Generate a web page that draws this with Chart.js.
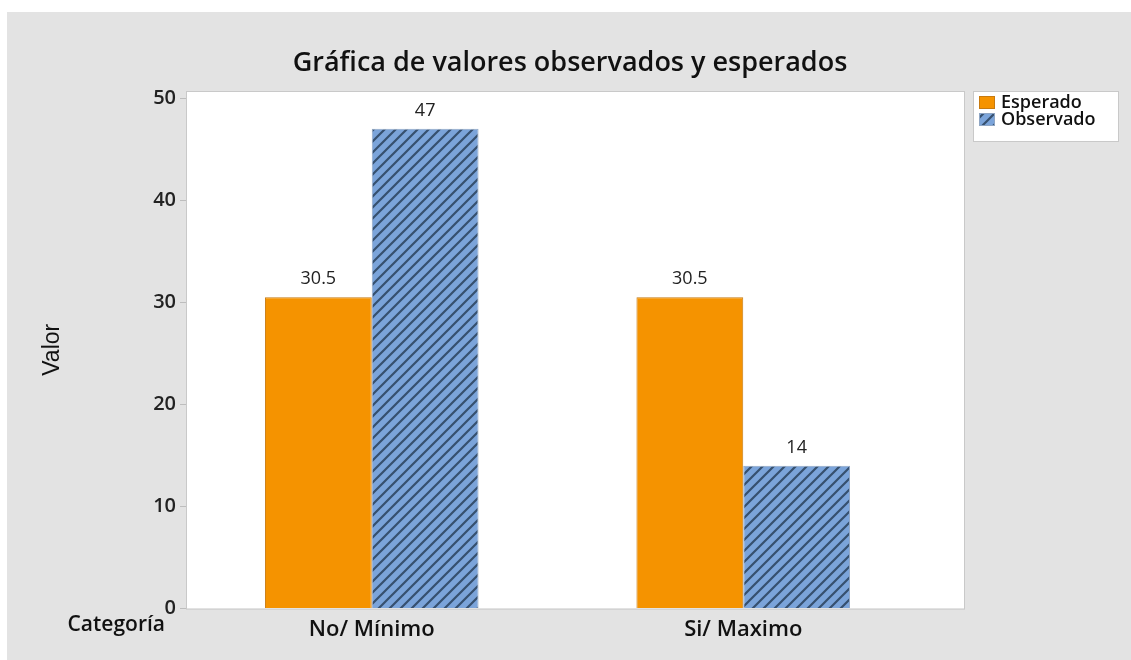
<!DOCTYPE html>
<html>
<head>
<meta charset="utf-8">
<script src="https://cdn.jsdelivr.net/npm/chart.js@4.4.1/dist/chart.umd.min.js"></script>
<style>
  body { margin: 0; background: #fff; }
  #panel { position: absolute; left: 7px; top: 12px; width: 1124px; height: 648px; background: #e3e3e3; }
</style>
</head>
<body>
<div id="panel"><canvas id="myChart"></canvas></div>
<script>
// data
const categories = ['No/ Mínimo', 'Si/ Maximo'];
const esperado = [30.5, 30.5];
const observado = [47, 14];
const yTicks = [0, 10, 20, 30, 40, 50];
const chartTitle = 'Gráfica de valores observados y esperados';

const FONT = "'Open Sans', 'Noto Sans', sans-serif";

// hatch fill for Observado
function makeHatch() {
  const s = 11;
  const c = document.createElement('canvas');
  c.width = s; c.height = s;
  const g = c.getContext('2d');
  g.fillStyle = '#7ba4da';
  g.fillRect(0, 0, s, s);
  g.strokeStyle = '#36506f';
  g.lineWidth = 2.2;
  g.beginPath();
  g.moveTo(-1, s + 1); g.lineTo(s + 1, -1);
  g.moveTo(-2, 2); g.lineTo(2, -2);
  g.moveTo(s - 2, s + 2); g.lineTo(s + 2, s - 2);
  g.stroke();
  return g.createPattern(c, 'repeat');
}

const plotBack = {
  id: 'plotBack',
  beforeDraw(chart) {
    const { ctx, chartArea: a } = chart;
    ctx.save();
    ctx.fillStyle = '#fff';
    ctx.fillRect(a.left, a.top, a.right - a.left + 36, a.bottom - a.top);
    ctx.strokeStyle = '#c9c9c9';
    ctx.lineWidth = 1;
    ctx.strokeRect(a.left + 0.5, a.top + 0.5, a.right - a.left + 35, a.bottom - a.top);
    // title
    ctx.fillStyle = '#111';
    ctx.font = '600 27px ' + FONT;
    ctx.textAlign = 'center';
    ctx.textBaseline = 'middle';
    ctx.fillText(chartTitle, 563, 51);
    ctx.restore();
  }
};

const extras = {
  id: 'extras',
  afterDatasetsDraw(chart) {
    const { ctx } = chart;
    ctx.save();
    // value labels
    ctx.font = '18px ' + FONT;
    ctx.fillStyle = '#222';
    ctx.textAlign = 'center';
    ctx.textBaseline = 'middle';
    chart.data.datasets.forEach((ds, i) => {
      chart.getDatasetMeta(i).data.forEach((bar, j) => {
        ctx.fillText(String(ds.data[j]), bar.x, bar.y - 18);
      });
    });
    // "Categoría" at the x label row
    const xs = chart.scales.x;
    ctx.font = '600 21px ' + FONT;
    ctx.fillStyle = '#111';
    ctx.textAlign = 'right';
    ctx.textBaseline = 'middle';
    ctx.fillText('Categoría', 158, xs.top + 16);
    // legend box
    const lx = 966, ly = 79;
    ctx.fillStyle = '#fff';
    ctx.fillRect(lx, ly, 146, 51);
    ctx.strokeStyle = '#c9c9c9';
    ctx.strokeRect(lx + 0.5, ly + 0.5, 145, 50);
    ctx.font = '600 18px ' + FONT;
    ctx.textAlign = 'left';
    ctx.textBaseline = 'middle';
    chart.data.datasets.forEach((ds, i) => {
      const y = ly + 5 + i * 17;
      ctx.fillStyle = ds.backgroundColor;
      ctx.fillRect(lx + 6, y, 16, 13);
      ctx.strokeStyle = ds.borderColor;
      ctx.strokeRect(lx + 6.5, y + 0.5, 15, 12);
      ctx.fillStyle = '#111';
      ctx.fillText(ds.label, lx + 28, y + 7);
    });
    ctx.restore();
  }
};

const chart1 = new Chart('myChart', {
  type: 'bar',
  data: {
    labels: categories,
    datasets: [{
      label: 'Esperado',
      data: esperado,
      backgroundColor: '#f59300',
      borderColor: '#c77a10',
      borderWidth: 1
    }, {
      label: 'Observado',
      data: observado,
      backgroundColor: makeHatch(),
      borderColor: '#8fa6c4',
      borderWidth: 1
    }]
  },
  options: {
    responsive: true,
    maintainAspectRatio: false,
    devicePixelRatio: 1,
    animation: false,
    categoryPercentage: 0.575,
    barPercentage: 1,
    layout: { padding: { left: 0, right: 202, top: 79, bottom: 17 } },
    plugins: {
      legend: { display: false },
      tooltip: { enabled: false },
      title: { display: false }
    },
    scales: {
      x: {
        grid: { display: false },
        border: { display: false },
        ticks: { color: '#111', padding: 0, font: { family: FONT, size: 22, weight: '600' } }
      },
      y: {
        min: 0,
        max: 50.7,
        afterBuildTicks: (s) => { s.ticks = yTicks.map(v => ({ value: v })); },
        afterFit: (s) => { s.width = 179; },
        grid: { drawOnChartArea: false, drawTicks: true, tickLength: 6, color: '#bdbdbd' },
        border: { display: false },
        ticks: { color: '#222', padding: 4, font: { family: FONT, size: 20, weight: '600' } },
        title: {
          display: true,
          text: 'Valor',
          color: '#111',
          font: { family: "'Liberation Sans', Arial, sans-serif", size: 23 },
          padding: { top: 32, bottom: 0 }
        }
      }
    }
  },
  plugins: [plotBack, extras]
});
</script>
</body>
</html>
